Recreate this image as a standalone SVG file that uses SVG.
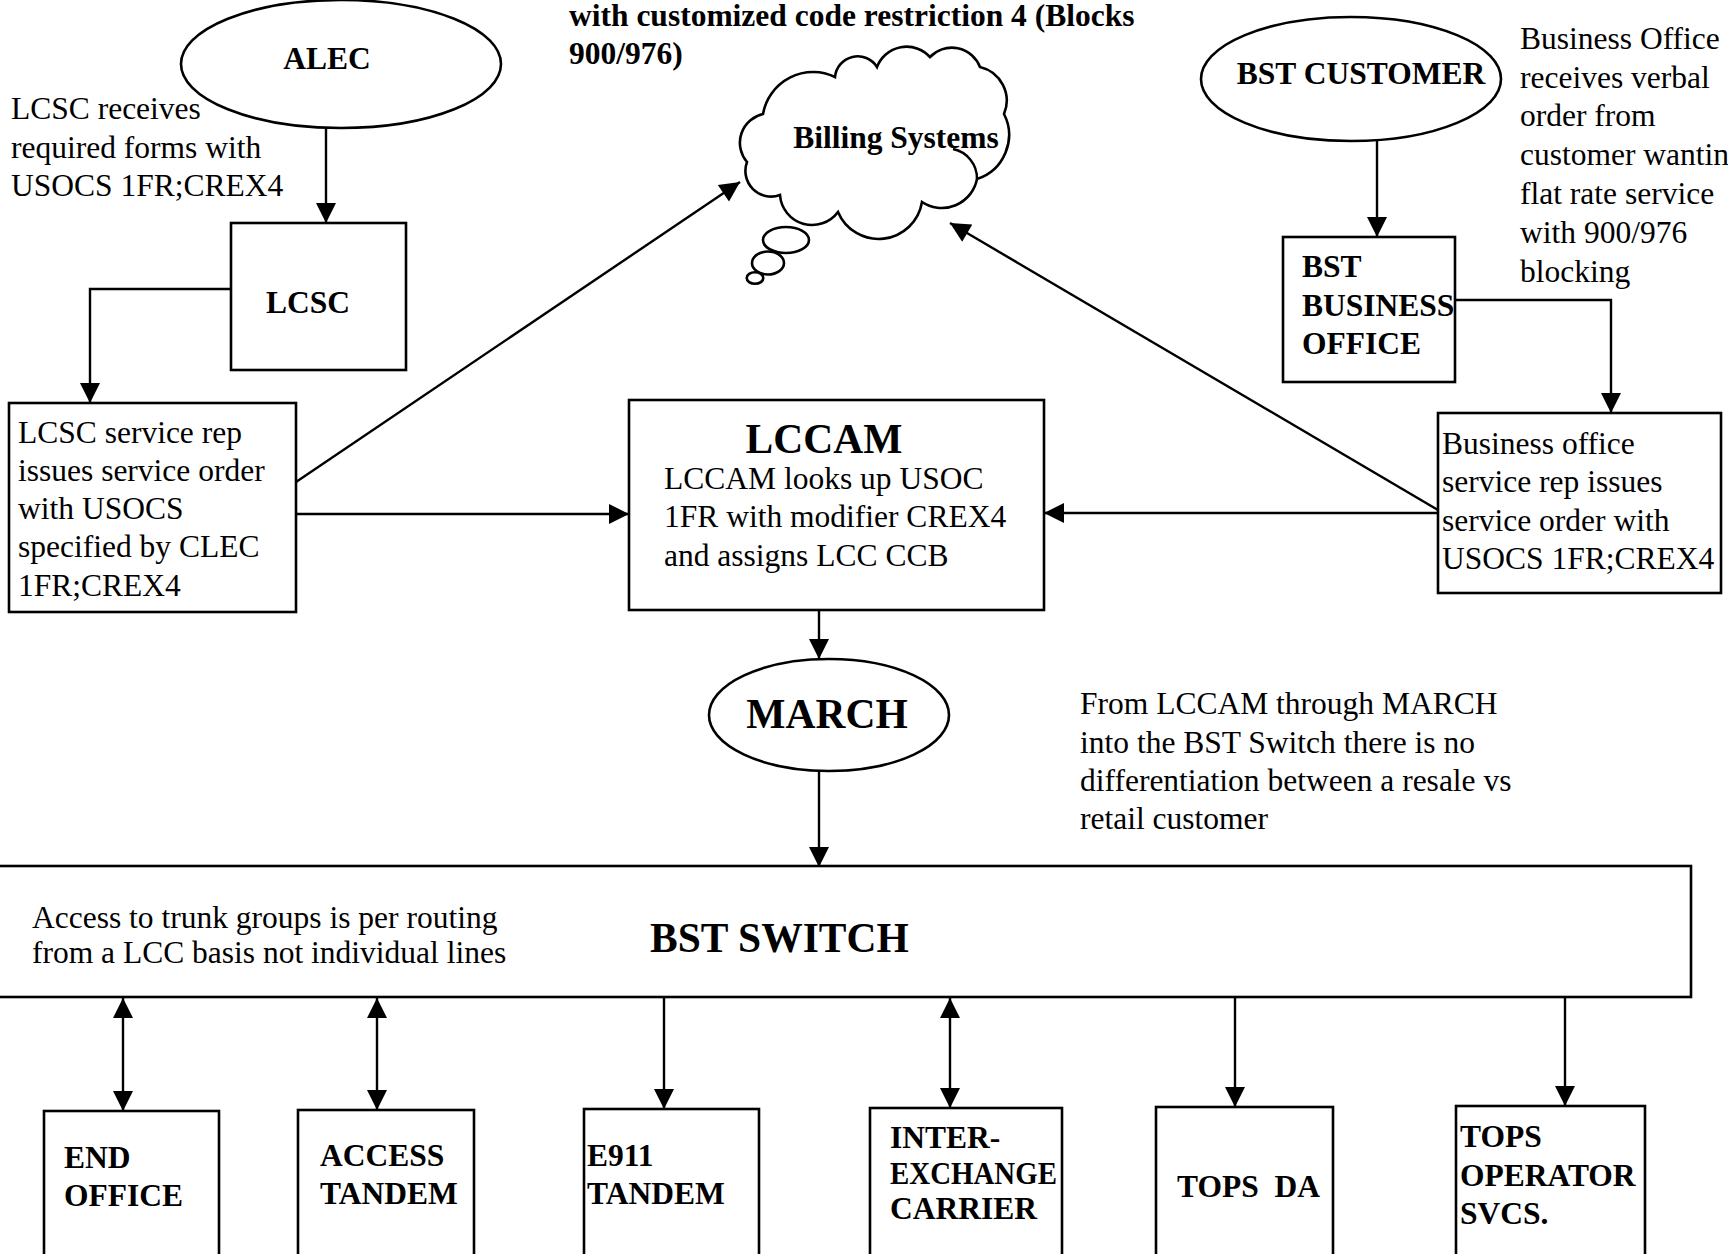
<svg xmlns="http://www.w3.org/2000/svg" width="1728" height="1254" viewBox="0 0 1728 1254">
<style>
text{font-family:"Liberation Serif","Times New Roman",serif;font-size:31.5px;fill:#000}
.b{font-weight:bold}
.L{font-weight:bold;font-size:41.5px}
.c{text-anchor:middle}
.shape{fill:#fff;stroke:#000;stroke-width:2.6}
.ln{fill:none;stroke:#000;stroke-width:2.4}
.arr{marker-end:url(#ah)}
.dbl{marker-end:url(#ah);marker-start:url(#ah)}
</style>
<defs>
<marker id="ah" markerUnits="userSpaceOnUse" markerWidth="22" markerHeight="20" refX="20" refY="10" orient="auto-start-reverse" viewBox="0 0 20 20">
<path d="M0,0 L20,10 L0,20 Z" fill="#000"/>
</marker>
</defs>
<rect width="1728" height="1254" fill="#fff"/>

<text class="b" x="569" y="26">with customized code restriction 4 (Blocks</text>
<text class="b" x="569" y="64">900/976)</text>

<text x="11" y="119">LCSC receives</text>
<text x="11" y="158">required forms with</text>
<text x="11" y="196">USOCS 1FR;CREX4</text>

<text x="1520" y="49">Business Office</text>
<text x="1520" y="88">receives verbal</text>
<text x="1520" y="126">order from</text>
<text x="1520" y="165">customer wantin</text>
<text x="1520" y="204">flat rate service</text>
<text x="1520" y="243">with 900/976</text>
<text x="1520" y="282">blocking</text>

<text x="1080" y="714">From LCCAM through MARCH</text>
<text x="1080" y="753">into the BST Switch there is no</text>
<text x="1080" y="791">differentiation between a resale vs</text>
<text x="1080" y="829">retail customer</text>

<g id="connectors">
<line class="ln arr" x1="326" y1="128" x2="326" y2="223"/>
<polyline class="ln arr" points="231,289 90,289 90,403"/>
<line class="ln arr" x1="296" y1="514" x2="629" y2="514"/>
<line class="ln arr" x1="296" y1="482" x2="740" y2="182"/>
<line class="ln arr" x1="819" y1="611" x2="819" y2="659"/>
<line class="ln arr" x1="819" y1="771" x2="819" y2="867"/>
<line class="ln arr" x1="1377" y1="141" x2="1377" y2="237"/>
<polyline class="ln arr" points="1455,300 1611,300 1611,413"/>
<line class="ln arr" x1="1438" y1="513" x2="1044" y2="513"/>
<line class="ln arr" x1="1438" y1="510" x2="950" y2="223"/>
<line class="ln dbl" x1="123" y1="998" x2="123" y2="1111"/>
<line class="ln dbl" x1="377" y1="998" x2="377" y2="1110"/>
<line class="ln arr" x1="664" y1="998" x2="664" y2="1109"/>
<line class="ln dbl" x1="950" y1="998" x2="950" y2="1108"/>
<line class="ln arr" x1="1235" y1="997" x2="1235" y2="1107"/>
<line class="ln arr" x1="1565" y1="997" x2="1565" y2="1106"/>
</g>

<g id="alec">
<ellipse class="shape" cx="341" cy="64" rx="160" ry="64"/>
<text class="b c" x="327" y="69">ALEC</text>
</g>

<g id="lcsc">
<rect class="shape" x="231" y="223" width="175" height="147"/>
<text class="b c" x="308" y="313">LCSC</text>
</g>

<g id="lcsc-rep">
<rect class="shape" x="9" y="403" width="287" height="209"/>
<text x="18" y="443">LCSC service rep</text>
<text x="18" y="481">issues service order</text>
<text x="18" y="519">with USOCS</text>
<text x="18" y="557">specified by CLEC</text>
<text x="18" y="596">1FR;CREX4</text>
</g>

<g id="billing">
<ellipse class="shape" cx="786" cy="240" rx="23" ry="13"/>
<ellipse class="shape" cx="768" cy="263" rx="16" ry="11.5"/>
<ellipse class="shape" cx="755" cy="278" rx="8.3" ry="5.8"/>
<path class="shape" d="M763,114 A50.9,50.9 0 0 1 835,77 A22.8,22.8 0 0 1 877,67 A31.7,31.7 0 0 1 930,57 A30.2,30.2 0 0 1 980,67 A34.6,34.6 0 0 1 1004,114 A46.3,46.3 0 0 1 977,179 A35.8,35.8 0 0 1 922,202 A44,44 0 0 1 838,212 A32.2,32.2 0 0 1 780,195 A25.7,25.7 0 0 1 747,162 A29.5,29.5 0 0 1 763,114 Z"/>
<path class="ln" d="M953,149 A30,30 0 0 1 977,179"/>
<text class="b c" x="896" y="148">Billing Systems</text>
</g>

<g id="lccam">
<rect class="shape" x="629" y="400" width="415" height="210"/>
<text class="L c" x="824" y="453">LCCAM</text>
<text x="664" y="489">LCCAM looks up USOC</text>
<text x="664" y="527">1FR with modifier CREX4</text>
<text x="664" y="566">and assigns LCC CCB</text>
</g>

<g id="bst-customer">
<ellipse class="shape" cx="1351" cy="79" rx="150" ry="62"/>
<text class="b c" x="1361" y="84">BST CUSTOMER</text>
</g>

<g id="bst-business-office">
<rect class="shape" x="1283" y="237" width="172" height="145"/>
<text class="b" x="1302" y="277">BST</text>
<text class="b" x="1302" y="316">BUSINESS</text>
<text class="b" x="1302" y="354">OFFICE</text>
</g>

<g id="bo-rep">
<rect class="shape" x="1438" y="413" width="283" height="180"/>
<text x="1442" y="454">Business office</text>
<text x="1442" y="492">service rep issues</text>
<text x="1442" y="531">service order with</text>
<text x="1442" y="569">USOCS 1FR;CREX4</text>
</g>

<g id="march">
<ellipse class="shape" cx="829" cy="715" rx="120" ry="56"/>
<text class="L c" x="827" y="728">MARCH</text>
</g>

<g id="bst-switch">
<rect class="shape" x="-5" y="866" width="1696" height="131"/>
<text x="32" y="928">Access to trunk groups is per routing</text>
<text x="32" y="963">from a LCC basis not individual lines</text>
<text class="L" x="650" y="952">BST SWITCH</text>
</g>

<g id="end-office">
<rect class="shape" x="44" y="1111" width="175" height="160"/>
<text class="b" x="64" y="1168">END</text>
<text class="b" x="64" y="1206">OFFICE</text>
</g>

<g id="access-tandem">
<rect class="shape" x="298" y="1110" width="176" height="160"/>
<text class="b" x="320" y="1166">ACCESS</text>
<text class="b" x="320" y="1204">TANDEM</text>
</g>

<g id="e911-tandem">
<rect class="shape" x="584" y="1109" width="175" height="160"/>
<text class="b" x="587" y="1166">E911</text>
<text class="b" x="587" y="1204">TANDEM</text>
</g>

<g id="interexchange-carrier">
<rect class="shape" x="870" y="1108" width="192" height="160"/>
<text class="b" x="890" y="1148">INTER-</text>
<text class="b" x="890" y="1184" textLength="167" lengthAdjust="spacingAndGlyphs">EXCHANGE</text>
<text class="b" x="890" y="1219">CARRIER</text>
</g>

<g id="tops-da">
<rect class="shape" x="1156" y="1107" width="177" height="160"/>
<text class="b" x="1177" y="1197" xml:space="preserve">TOPS  DA</text>
</g>

<g id="tops-operator">
<rect class="shape" x="1456" y="1106" width="189" height="160"/>
<text class="b" x="1460" y="1147">TOPS</text>
<text class="b" x="1460" y="1186">OPERATOR</text>
<text class="b" x="1460" y="1224">SVCS.</text>
</g>
</svg>
